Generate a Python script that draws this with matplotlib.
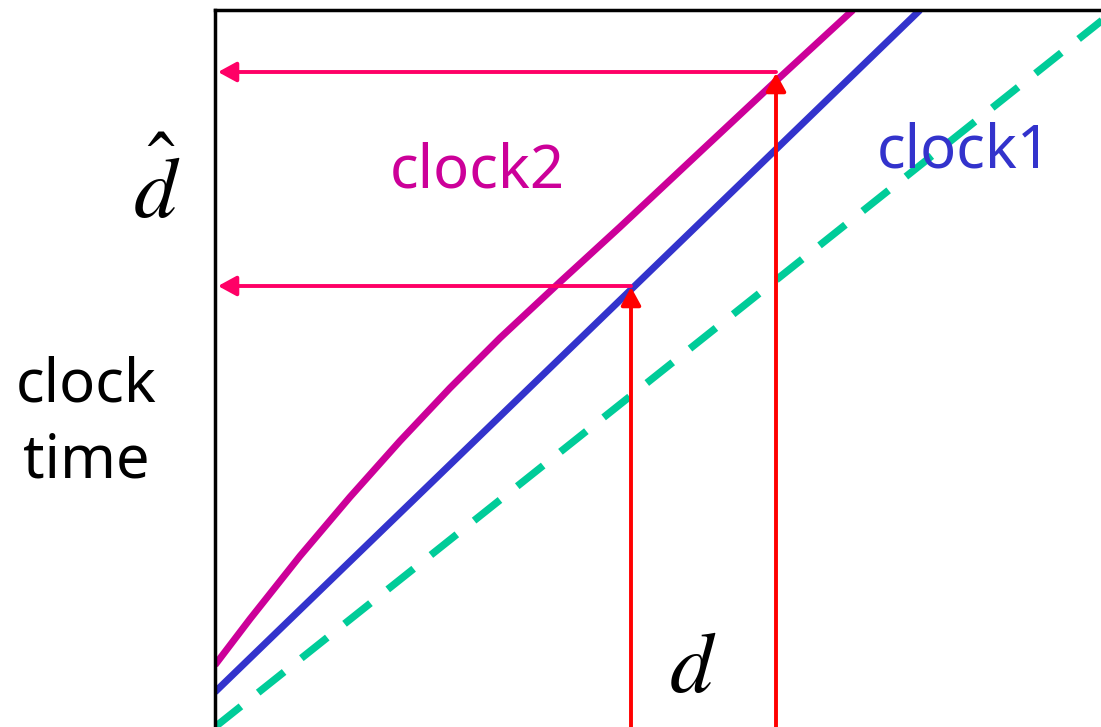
import numpy as np
import matplotlib.pyplot as plt

plt.rcParams['mathtext.fontset'] = 'stix'

# true time (dashed reference line)
true_x = [0, 900]
true_y = [0, 717]

# clock1: straight, offset and faster than true time
clock1_x = [0, 705]
clock1_y = [35, 717]

# clock2: curved, drifting
clock2_x = [0, 35, 85, 135, 185, 235, 285, 345, 405, 485, 562, 638]
clock2_y = [62, 108, 171, 230, 286, 339, 389, 445, 500, 575, 647, 717]

# the two readings d -> d_hat
read_x = [416, 561]
read_y = [440, 654]

fig = plt.figure(figsize=(11.01, 7.27), dpi=100)
ax = fig.add_axes([215 / 1101, 0, 886 / 1101, 717 / 727])
ax.set_xlim(0, 886)
ax.set_ylim(0, 717)
ax.set_xticks([])
ax.set_yticks([])
for s in ['right', 'bottom']:
    ax.spines[s].set_visible(False)
for s in ['left', 'top']:
    ax.spines[s].set_linewidth(2.5)

ax.plot(true_x, true_y, color='#00CC99', lw=5.3, dashes=(4.5, 3.0),
        solid_capstyle='butt', dash_capstyle='butt')
ax.plot(clock1_x, clock1_y, color='#3333CC', lw=5, solid_capstyle='butt')
ax.plot(clock2_x, clock2_y, color='#CC0099', lw=5, solid_capstyle='butt',
        solid_joinstyle='round')

head = '-|>,head_length=1.1,head_width=0.6'
for x, y in zip(read_x, read_y):
    # vertical red arrow from the time axis up to the clock curve
    ax.annotate('', xy=(x, y), xytext=(x, 0), annotation_clip=False,
                arrowprops=dict(arrowstyle=head, color='#FF0000', lw=2.8,
                                mutation_scale=10, shrinkA=0, shrinkB=0))
    # horizontal pink arrow across to the clock-time axis
    ax.annotate('', xy=(3, y + 1), xytext=(x, y + 1), annotation_clip=False,
                arrowprops=dict(arrowstyle=head, color='#FF0066', lw=2.8,
                                mutation_scale=10, shrinkA=0, shrinkB=0))

ax.text(175, 540, 'clock2', color='#CC0099', fontsize=43, family='Noto Sans',
        ha='left', va='baseline')
ax.text(662, 560, 'clock1', color='#3333CC', fontsize=43, family='Noto Sans',
        ha='left', va='baseline')
ax.text(-129, 325, 'clock', color='black', fontsize=43, family='Noto Sans',
        ha='center', va='baseline', clip_on=False)
ax.text(-129, 249, 'time', color='black', fontsize=43, family='Noto Sans',
        ha='center', va='baseline', clip_on=False)
ax.text(-58, 509, r'$\hat{d}$', fontsize=62, ha='center', va='baseline',
        clip_on=False)
ax.text(478, 35, r'$d$', fontsize=62, ha='center', va='baseline')

fig.savefig('out.png', dpi=100)
